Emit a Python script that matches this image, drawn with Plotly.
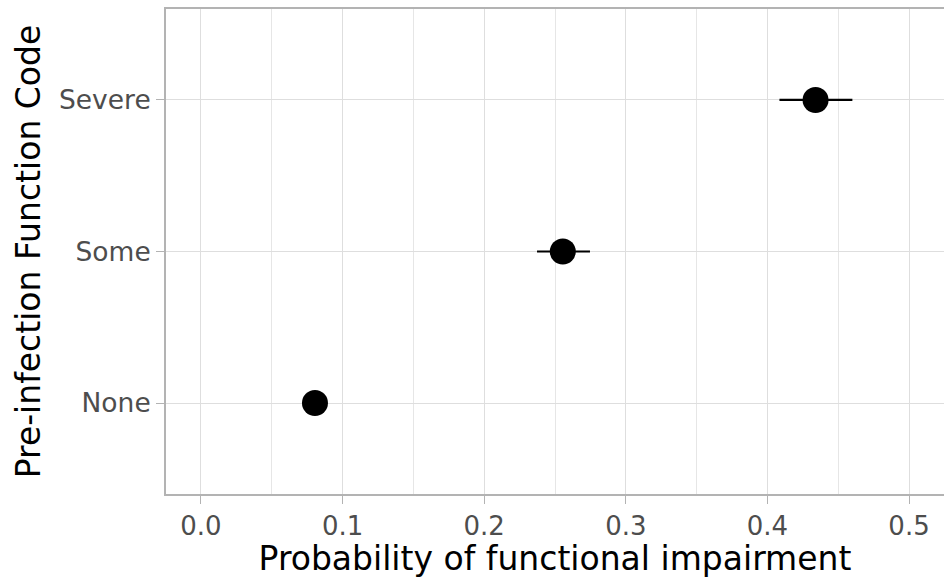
import plotly.graph_objects as go

categories = ["None", "Some", "Severe"]
estimate = [0.0805, 0.2555, 0.4340]
lower = [0.0740, 0.2373, 0.4085]
upper = [0.0870, 0.2747, 0.4600]

x_ticks = [0.0, 0.1, 0.2, 0.3, 0.4, 0.5]
x_tick_labels = ["0.0", "0.1", "0.2", "0.3", "0.4", "0.5"]

err_plus = [u - e for u, e in zip(upper, estimate)]
err_minus = [e - l for e, l in zip(estimate, lower)]

FONT = "DejaVu Sans"
fig = go.Figure()
fig.add_trace(go.Scatter(
    x=estimate, y=categories, mode="markers",
    marker=dict(color="black", size=26, line=dict(width=0)),
    error_x=dict(type="data", symmetric=False, array=err_plus, arrayminus=err_minus,
                 width=0, thickness=2.2, color="black"),
    showlegend=False,
))

fig.update_layout(
    template="none",
    width=944, height=578,
    margin=dict(l=166, r=0, t=9, b=84, pad=0),
    paper_bgcolor="white", plot_bgcolor="white",
    font=dict(family=FONT, color="black"),
    xaxis=dict(
        automargin=False,
        range=[-0.0247, 0.5247],
        tickvals=x_ticks, ticktext=x_tick_labels,
        tickfont=dict(size=26, color="#4d4d4d", family=FONT),
        ticks="outside", ticklen=8, tickwidth=1.1, tickcolor="#b3b3b3",
        showgrid=True, gridcolor="#dedede", gridwidth=1.2,
        minor=dict(tickvals=[0.05, 0.15, 0.25, 0.35, 0.45], showgrid=True,
                   gridcolor="#e6e6e6", gridwidth=0.7, ticks=""),
        showline=True, linecolor="#b3b3b3", linewidth=2, mirror=True,
        zeroline=False,
        title=dict(text="Probability of functional impairment",
                   font=dict(size=33, color="black", family=FONT), standoff=4),
    ),
    yaxis=dict(
        automargin=False,
        type="category", categoryorder="array", categoryarray=categories,
        range=[-0.6, 2.6],
        tickfont=dict(size=26.5, color="#4d4d4d", family=FONT),
        ticks="outside", ticklen=8, tickwidth=1.1, tickcolor="#b3b3b3",
        showgrid=True, gridcolor="#dedede", gridwidth=1.2,
        showline=True, linecolor="#b3b3b3", linewidth=2, mirror=False,
        zeroline=False,
        title=dict(text="Pre-infection Function Code",
                   font=dict(size=33, color="black", family=FONT), standoff=8),
    ),
)

fig.write_html("out.html", config={"displayModeBar": False},
               post_script="document.body.style.margin='0';document.body.style.overflow='hidden';")
